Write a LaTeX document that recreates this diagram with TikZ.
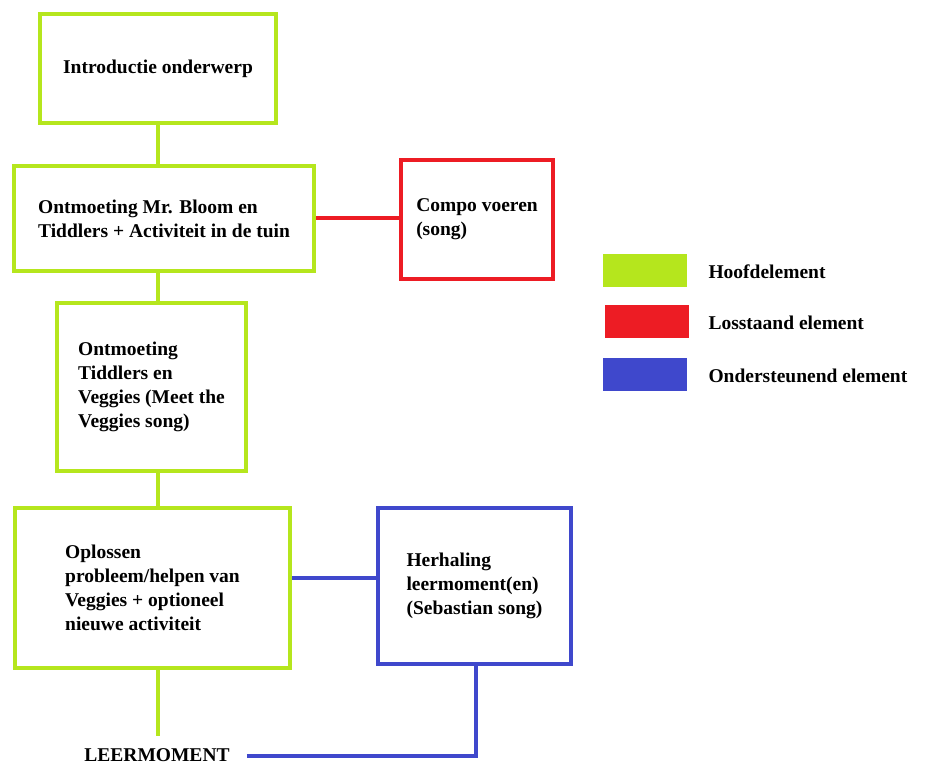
\documentclass[tikz,border=0pt]{standalone}
\usepackage{fontspec}
\setmainfont{Liberation Serif}
\definecolor{hoofd}{RGB}{181,230,29}
\definecolor{los}{RGB}{237,28,36}
\definecolor{steun}{RGB}{63,72,204}
\begin{document}
\begin{tikzpicture}[
        x=1pt, y=-1pt,
        every node/.style = {font=\fontsize{19.5}{24}\selectfont\bfseries},
        box/.style = {draw=#1, line width=4pt, align=left, inner sep=0pt},
        swatch/.style = {fill=#1, minimum width=84pt, minimum height=33pt, inner sep=0pt, node contents={}},
        link/.style = {draw=#1, line width=4pt}
        ]

        \useasboundingbox (0,0) rectangle (930,765);

        \node (intro) at (158,68.5) [box=hoofd, minimum width=236pt, minimum height=109pt] {Introductie onderwerp};
        \node (bloom) at (164,218.5) [box=hoofd, minimum width=300pt, minimum height=105pt] {Ontmoeting Mr. Bloom en\\Tiddlers + Activiteit in de tuin};
        \node (compo) at (477,219.5) [box=los, minimum width=152pt, minimum height=119pt] {Compo voeren\\(song)};
        \node (veggies) at (151.5,387) [box=hoofd, minimum width=189pt, minimum height=168pt] {Ontmoeting\\Tiddlers en\\Veggies (Meet the\\Veggies song)};
        \node (oplossen) at (152.5,588) [box=hoofd, minimum width=275pt, minimum height=160pt] {Oplossen\\probleem/helpen van\\Veggies + optioneel\\nieuwe activiteit};
        \node (herhaling) at (474.5,586) [box=steun, minimum width=193pt, minimum height=156pt] {Herhaling\\leermoment(en)\\(Sebastian song)};
        \node (leer) at (157,755) [inner xsep=17pt] {LEERMOMENT};
        \coordinate (eind) at (158,736);

        \path[link=hoofd] (intro.south) -- (intro.south |- bloom.north)
                (bloom.south -| intro.south) -- (veggies.north -| intro.south)
                (veggies.south -| intro.south) -- (oplossen.north -| intro.south)
                (oplossen.south -| eind) -- (eind);
        \path[link=los] (bloom.east) -- (bloom.east -| compo.west);
        \path[link=steun] ([yshift=10pt]oplossen.east) -- ([yshift=10pt]oplossen.east -| herhaling.west);
        \path[link=steun] ([yshift=-1pt]leer.east) -| ([xshift=1.5pt]herhaling.south);

        % legenda
        \node (kH) at (645,270.5) [swatch=hoofd];
        \node (kL) at (646.5,321.5) [swatch=los];
        \node (kS) at (645,374.5) [swatch=steun];
        \node at (705,272) [anchor=west] {Hoofdelement};
        \node at (705,323) [anchor=west] {Losstaand element};
        \node at (705,376) [anchor=west] {Ondersteunend element};
    \end{tikzpicture}
\end{document}
